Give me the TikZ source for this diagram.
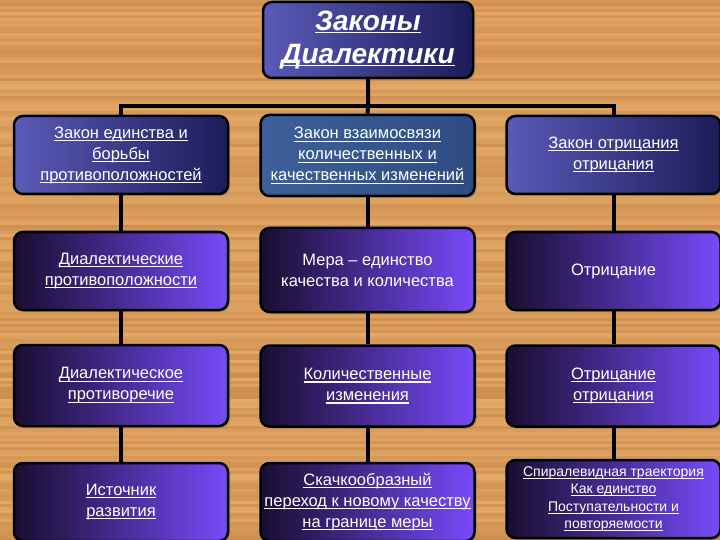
\documentclass[tikz,border=0pt]{standalone}
\usepackage{fontspec}
\setmainfont{Liberation Sans}
\usetikzlibrary{shadows}
\definecolor{woodLight}{RGB}{234,178,110}
\definecolor{woodDark}{RGB}{186,116,56}
\definecolor{navyDark}{RGB}{28,28,90}
\definecolor{navyLight}{RGB}{90,90,184}
\definecolor{steelLight}{RGB}{62,96,154}
\definecolor{steelDark}{RGB}{46,76,130}
\definecolor{inkDark}{RGB}{24,14,48}
\definecolor{purpleLight}{RGB}{120,74,250}
\newcommand{\lin}[1]{\leavevmode\setbox0\hbox{#1}\rlap{\rule[-2.8pt]{\wd0}{1.1pt}}\box0}
\tikzstyle{box} = [draw=black, line width=2.5pt, rounded corners=9pt, text=white, align=center, minimum width=214pt, minimum height=78pt, inner sep=2pt, font=\fontsize{16.5}{21}\selectfont, drop shadow={shadow xshift=2pt, shadow yshift=-2pt, opacity=.6}]
\tikzstyle{law} = [box, left color=navyLight, right color=navyDark]
\tikzstyle{item} = [box, left color=inkDark, right color=purpleLight]
\tikzstyle{link} = [line width=4pt]

\begin{document}
\begin{tikzpicture}[x=1pt, y=-1pt]
        \useasboundingbox (0,0) rectangle (720,540);
        \pgfmathsetseed{11}
        \foreach \i in {0,...,179} {
            \pgfmathsetmacro{\tone}{int(15+45*rnd)}
            \fill[woodDark!\tone!woodLight] (0,3*\i) rectangle (720,3*\i+3);
        }
        \node (t) [law, minimum width=210pt, minimum height=76pt, font=\fontsize{28}{33}\selectfont\bfseries\itshape] at (368,40) {\lin{Законы}\\\lin{Диалектики}};
        \node (a1) [law] at (121,155) {\lin{Закон единства и}\\\lin{борьбы}\\\lin{противоположностей}};
        \node (b1) [box, left color=steelLight, right color=steelDark, minimum height=81pt] at (367.5,155.5) {\lin{Закон взаимосвязи}\\\lin{количественных и}\\\lin{качественных изменений}};
        \node (c1) [law] at (613.5,155) {\lin{Закон отрицания}\\\lin{отрицания}};
        \node (a2) [item] at (121,271) {\lin{Диалектические}\\\lin{противоположности}};
        \node (b2) [item, minimum height=84pt] at (367.5,270) {Мера – единство\\качества и количества};
        \node (c2) [item] at (613.5,271) {Отрицание};
        \node (a3) [item, minimum height=81pt] at (121,385.5) {\lin{Диалектическое}\\\lin{противоречие}};
        \node (b3) [item, minimum height=81pt] at (367.5,386) {\lin{Количественные}\\\lin{изменения}};
        \node (c3) [item, minimum height=81pt] at (613.5,386) {\lin{Отрицание}\\\lin{отрицания}};
        \node (a4) [item] at (121,502) {\lin{Источник}\\\lin{развития}};
        \node (b4) [item] at (367.5,502) {\lin{Скачкообразный}\\\lin{переход к новому качеству}\\\lin{на границе меры}};
        \node (c4) [item, font=\fontsize{14}{17.5}\selectfont] at (613.5,499) {\lin{Спиралевидная траектория}\\\lin{Как единство}\\\lin{Поступательности и}\\\lin{повторяемости}};
        \path (t.south) ++(0,27) coordinate (bus);
        \draw [link] (t.south) -- (bus) -- (b1.north);
        \draw [link] (a1.north) |- (bus) -| (c1.north);
        \foreach \c in {a,b,c}
            \foreach \r/\s in {1/2,2/3,3/4}
                \draw [link] (\c\r.south) -- (\c\s.north);
    \end{tikzpicture}
\end{document}
